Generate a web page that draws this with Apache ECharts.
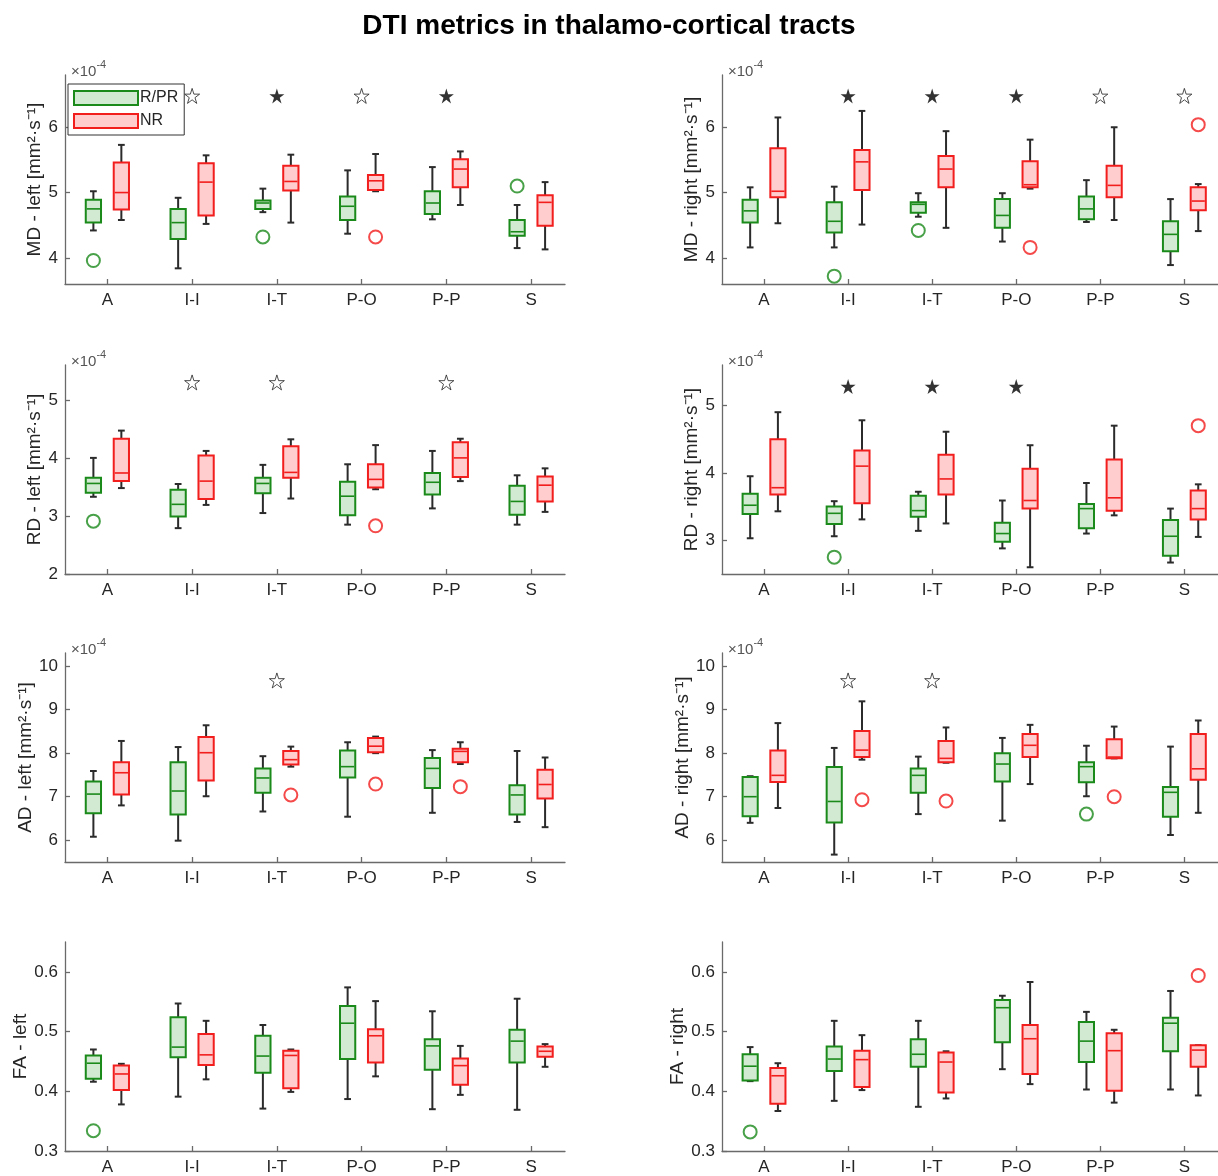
<!DOCTYPE html>
<html><head><meta charset="utf-8">
<script src="https://cdn.jsdelivr.net/npm/echarts@6/dist/echarts.min.js"></script>
<style>html,body{margin:0;padding:0;background:#fff}#c{width:1218px;height:1176px}</style>
</head><body><div id="c"></div>
<script>
const categories = ['A', 'I-I', 'I-T', 'P-O', 'P-P', 'S'];

// each box: [lowerWhisker, q1, median, q3, upperWhisker] (axis units)
const mdLeftRPR = [[4.42,4.54,4.75,4.89,5.02],[3.84,4.29,4.54,4.75,4.92],[4.70,4.75,4.84,4.88,5.06],[4.37,4.58,4.79,4.94,5.34],[4.59,4.67,4.84,5.02,5.39],[4.15,4.34,4.40,4.58,4.81]];
const mdLeftNR  = [[4.58,4.74,5.00,5.46,5.73],[4.52,4.65,5.16,5.45,5.57],[4.54,5.03,5.17,5.41,5.58],[5.02,5.04,5.18,5.27,5.59],[4.81,5.08,5.36,5.51,5.63],[4.13,4.49,4.85,4.96,5.16]];
const mdLeftOutRPR = [['A',3.96],['I-T',4.32],['S',5.10]];
const mdLeftOutNR  = [['P-O',4.32]];
const mdLeftStarsOpen = ['I-I','P-O'];
const mdLeftStarsFilled = ['I-T','P-P'];

const mdRightRPR = [[4.16,4.54,4.72,4.89,5.08],[4.16,4.39,4.56,4.85,5.09],[4.63,4.69,4.82,4.85,4.99],[4.25,4.46,4.65,4.90,4.99],[4.55,4.59,4.75,4.94,5.19],[3.89,4.10,4.36,4.56,4.90]];
const mdRightNR  = [[4.53,4.93,5.02,5.68,6.15],[4.51,5.04,5.47,5.65,6.25],[4.46,5.08,5.36,5.56,5.94],[5.06,5.08,5.12,5.48,5.81],[4.58,4.93,5.11,5.41,6.00],[4.41,4.73,4.87,5.08,5.13]];
const mdRightOutRPR = [['I-I',3.72],['I-T',4.42]];
const mdRightOutNR  = [['P-O',4.16],['S',6.04]];
const mdRightStarsOpen = ['P-P','S'];
const mdRightStarsFilled = ['I-I','I-T','P-O'];

const rdLeftRPR = [[3.33,3.40,3.56,3.66,4.00],[2.79,2.99,3.20,3.45,3.55],[3.05,3.39,3.56,3.66,3.88],[2.85,3.01,3.34,3.59,3.89],[3.13,3.37,3.58,3.74,4.12],[2.85,3.02,3.25,3.52,3.70]];
const rdLeftNR  = [[3.48,3.60,3.74,4.33,4.47],[3.19,3.29,3.60,4.04,4.12],[3.30,3.66,3.75,4.20,4.32],[3.46,3.49,3.63,3.89,4.22],[3.60,3.67,4.00,4.27,4.33],[3.07,3.25,3.53,3.68,3.82]];
const rdLeftOutRPR = [['A',2.91]];
const rdLeftOutNR  = [['P-O',2.83]];
const rdLeftStarsOpen = ['I-I','I-T','P-P'];
const rdLeftStarsFilled = [];

const rdRightRPR = [[3.03,3.39,3.52,3.69,3.95],[3.06,3.24,3.40,3.50,3.58],[3.14,3.35,3.44,3.66,3.72],[2.88,2.98,3.10,3.26,3.59],[3.10,3.18,3.47,3.54,3.85],[2.67,2.77,3.06,3.30,3.47]];
const rdRightNR  = [[3.43,3.68,3.78,4.50,4.90],[3.31,3.55,4.10,4.33,4.78],[3.25,3.68,3.91,4.27,4.61],[2.60,3.47,3.59,4.06,4.41],[3.37,3.44,3.63,4.20,4.70],[3.05,3.31,3.47,3.74,3.83]];
const rdRightOutRPR = [['I-I',2.75]];
const rdRightOutNR  = [['S',4.70]];
const rdRightStarsOpen = [];
const rdRightStarsFilled = ['I-I','I-T','P-O'];

const adLeftRPR = [[6.08,6.62,7.06,7.35,7.59],[5.99,6.59,7.13,7.79,8.14],[6.66,7.09,7.43,7.65,7.93],[6.54,7.44,7.69,8.06,8.25],[6.63,7.20,7.65,7.89,8.07],[6.42,6.59,7.04,7.26,8.05]];
const adLeftNR  = [[6.80,7.05,7.55,7.79,8.28],[7.01,7.37,8.01,8.37,8.64],[7.69,7.74,7.85,8.05,8.15],[8.00,8.02,8.16,8.35,8.38],[7.75,7.79,8.04,8.10,8.25],[6.30,6.96,7.28,7.62,7.90]];
const adLeftOutRPR = [];
const adLeftOutNR  = [['I-T',7.04],['P-O',7.29],['P-P',7.23]];
const adLeftStarsOpen = ['I-T'];
const adLeftStarsFilled = [];

const adRightRPR = [[6.40,6.55,7.00,7.45,7.47],[5.67,6.41,6.89,7.68,8.12],[6.60,7.09,7.49,7.65,7.92],[6.45,7.35,7.75,8.00,8.35],[7.01,7.33,7.69,7.79,8.17],[6.12,6.54,7.10,7.22,8.15]];
const adRightNR  = [[6.74,7.34,7.49,8.06,8.69],[7.85,7.91,8.07,8.51,9.19],[7.78,7.79,7.88,8.28,8.59],[7.29,7.91,8.18,8.44,8.65],[7.88,7.88,7.91,8.32,8.61],[6.63,7.39,7.64,8.44,8.75]];
const adRightOutRPR = [['P-P',6.60]];
const adRightOutNR  = [['I-I',6.93],['I-T',6.90],['P-P',7.00]];
const adRightStarsOpen = ['I-I','I-T'];
const adRightStarsFilled = [];

const faLeftRPR = [[0.416,0.421,0.447,0.460,0.470],[0.391,0.457,0.474,0.524,0.547],[0.371,0.431,0.459,0.493,0.511],[0.387,0.454,0.514,0.543,0.574],[0.370,0.436,0.476,0.487,0.534],[0.369,0.448,0.484,0.503,0.555]];
const faLeftNR  = [[0.378,0.402,0.429,0.443,0.446],[0.420,0.444,0.461,0.496,0.518],[0.399,0.405,0.460,0.468,0.470],[0.425,0.448,0.493,0.504,0.551],[0.394,0.411,0.443,0.455,0.476],[0.441,0.458,0.467,0.475,0.479]];
const faLeftOutRPR = [['A',0.334]];
const faLeftOutNR  = [];

const faRightRPR = [[0.417,0.418,0.442,0.462,0.474],[0.384,0.434,0.454,0.475,0.518],[0.374,0.441,0.462,0.487,0.518],[0.437,0.482,0.540,0.553,0.560],[0.403,0.449,0.484,0.516,0.533],[0.403,0.467,0.514,0.523,0.568]];
const faRightNR  = [[0.367,0.379,0.426,0.439,0.447],[0.402,0.407,0.453,0.468,0.494],[0.388,0.398,0.449,0.465,0.467],[0.412,0.429,0.488,0.511,0.583],[0.381,0.401,0.468,0.497,0.503],[0.393,0.441,0.469,0.477,0.477]];
const faRightOutRPR = [['A',0.332]];
const faRightOutNR  = [['S',0.594]];

// y tick labels per metric
const mdTicks = [4, 5, 6];
const rdLeftTicks = [2, 3, 4, 5];
const rdRightTicks = [3, 4, 5];
const adTicks = [6, 7, 8, 9, 10];
const faTicks = [0.3, 0.4, 0.5, 0.6];

// ---------- styling / layout ----------
const FONT = 'Liberation Sans, Arial, Helvetica, sans-serif';
const TXT = '#262626';
const AXIS = '#6a6a6a';
const G_EDGE = '#1a8a1a', G_FILL = '#d2ead2';
const R_EDGE = '#f21d1d', R_FILL = '#ffcdcd';
const WHISK = '#2b2b2b';
const BOX_W = 0.18, CAP_W = 0.08, OFF = 0.165;
const STAR = 'path://M50,2 L61.2,36.6 L97.6,36.6 L68.2,58 L79.4,92.6 L50,71.2 L20.6,92.6 L31.8,58 L2.4,36.6 L38.8,36.6 Z';

const panels = [
  {metric:'MD', side:'left',  rpr:mdLeftRPR,  nr:mdLeftNR,  oR:mdLeftOutRPR,  oN:mdLeftOutNR,  so:mdLeftStarsOpen,  sf:mdLeftStarsFilled,  star:6.48, min:3.6, max:6.8, ticks:mdTicks, exp:true, gap:19},
  {metric:'MD', side:'right', rpr:mdRightRPR, nr:mdRightNR, oR:mdRightOutRPR, oN:mdRightOutNR, so:mdRightStarsOpen, sf:mdRightStarsFilled, star:6.48, min:3.6, max:6.8, ticks:mdTicks, exp:true, gap:19},
  {metric:'RD', side:'left',  rpr:rdLeftRPR,  nr:rdLeftNR,  oR:rdLeftOutRPR,  oN:rdLeftOutNR,  so:rdLeftStarsOpen,  sf:rdLeftStarsFilled,  star:5.30, min:2, max:5.6, ticks:rdLeftTicks, exp:true, gap:19},
  {metric:'RD', side:'right', rpr:rdRightRPR, nr:rdRightNR, oR:rdRightOutRPR, oN:rdRightOutNR, so:rdRightStarsOpen, sf:rdRightStarsFilled, star:5.28, min:2.5, max:5.6, ticks:rdRightTicks, exp:true, gap:19},
  {metric:'AD', side:'left',  rpr:adLeftRPR,  nr:adLeftNR,  oR:adLeftOutRPR,  oN:adLeftOutNR,  so:adLeftStarsOpen,  sf:adLeftStarsFilled,  star:9.67, min:5.5, max:10.3, ticks:adTicks, exp:true, gap:23},
  {metric:'AD', side:'right', rpr:adRightRPR, nr:adRightNR, oR:adRightOutRPR, oN:adRightOutNR, so:adRightStarsOpen, sf:adRightStarsFilled, star:9.67, min:5.5, max:10.3, ticks:adTicks, exp:true, gap:23},
  {metric:'FA', side:'left',  rpr:faLeftRPR,  nr:faLeftNR,  oR:faLeftOutRPR,  oN:faLeftOutNR,  so:[], sf:[], star:0, min:0.3, max:0.65, ticks:faTicks, exp:false, gap:35},
  {metric:'FA', side:'right', rpr:faRightRPR, nr:faRightNR, oR:faRightOutRPR, oN:faRightOutNR, so:[], sf:[], star:0, min:0.3, max:0.65, ticks:faTicks, exp:false, gap:35}
];

const rowTops = [75, 365, 653, 942];
const GRID_H = 209, GRID_W = 500;
const colLeft = {left: 65, right: 722};

function boxRender(edge, fill) {
  return function (params, api) {
    const x = api.value(0);
    const lo = api.coord([x, api.value(1)]);
    const q1 = api.coord([x, api.value(2)]);
    const md = api.coord([x, api.value(3)]);
    const q3 = api.coord([x, api.value(4)]);
    const hi = api.coord([x, api.value(5)]);
    const hw = api.size([BOX_W, 0])[0] / 2;
    const cw = api.size([CAP_W, 0])[0] / 2;
    const cx = lo[0];
    const ws = {stroke: WHISK, lineWidth: 2};
    return {type: 'group', children: [
      {type: 'line', shape: {x1: cx, y1: hi[1], x2: cx, y2: q3[1]}, style: ws},
      {type: 'line', shape: {x1: cx, y1: q1[1], x2: cx, y2: lo[1]}, style: ws},
      {type: 'line', shape: {x1: cx - cw, y1: hi[1], x2: cx + cw, y2: hi[1]}, style: ws},
      {type: 'line', shape: {x1: cx - cw, y1: lo[1], x2: cx + cw, y2: lo[1]}, style: ws},
      {type: 'rect', shape: {x: cx - hw, y: q3[1], width: 2 * hw, height: q1[1] - q3[1]}, style: {fill: fill, stroke: edge, lineWidth: 2}},
      {type: 'line', shape: {x1: cx - hw + 1, y1: md[1], x2: cx + hw - 1, y2: md[1]}, style: {stroke: edge, lineWidth: 1.6}}
    ]};
  };
}

const grid = [], xAxis = [], yAxis = [], series = [], title = [];
title.push({text: 'DTI metrics in thalamo-cortical tracts', left: 'center', top: 7,
  textStyle: {fontFamily: FONT, fontSize: 28, fontWeight: 'bold', color: '#000'}});

const catPos = c => categories.indexOf(c) + 1;

panels.forEach((p, i) => {
  const row = Math.floor(i / 2);
  const left = colLeft[p.side];
  const top = rowTops[row];
  grid.push({left: left, top: top, width: GRID_W, height: GRID_H, containLabel: false});
  xAxis.push({
    type: 'value', gridIndex: i, min: 0.5, max: 6.4,
    axisLine: {show: true, onZero: false, lineStyle: {color: AXIS, width: 1.3}},
    axisTick: {show: true, inside: true, length: 5, customValues: [1,2,3,4,5,6], lineStyle: {color: AXIS, width: 1.3}},
    axisLabel: {customValues: [1,2,3,4,5,6], formatter: v => categories[Math.round(v) - 1] || '',
      fontFamily: FONT, fontSize: 17, color: TXT, margin: 8},
    splitLine: {show: false}
  });
  const nm = p.metric + ' - ' + p.side;
  const yname = p.exp ? nm + ' [mm\u00B2\u00B7s\u207B\u00B9]' : nm;
  yAxis.push({
    type: 'value', gridIndex: i, min: p.min, max: p.max,
    axisLine: {show: true, onZero: false, lineStyle: {color: AXIS, width: 1.3}},
    axisTick: {show: true, inside: true, length: 5, customValues: p.ticks, lineStyle: {color: AXIS, width: 1.3}},
    axisLabel: {customValues: p.ticks, formatter: v => String(Math.round(v * 10) / 10),
      fontFamily: FONT, fontSize: 17, color: TXT, margin: 7},
    splitLine: {show: false},
    name: yname, nameLocation: 'middle', nameGap: p.gap,
    nameTextStyle: {fontFamily: FONT, fontSize: 19, color: TXT}
  });
  if (p.exp) {
    title.push({text: '{a|\u00D710}{b|-4}', left: left + 1, top: top - 21,
      textStyle: {fontWeight: 'normal', rich: {
        a: {fontFamily: FONT, fontSize: 15, fontWeight: 'normal', color: '#555', lineHeight: 20, verticalAlign: 'bottom'},
        b: {fontFamily: FONT, fontSize: 11, fontWeight: 'normal', color: '#555', lineHeight: 13, verticalAlign: 'top'}
      }}});
  }
  const gData = p.rpr.map((b, k) => [k + 1 - OFF].concat(b));
  const rData = p.nr.map((b, k) => [k + 1 + OFF].concat(b));
  series.push({type: 'custom', name: 'R/PR', xAxisIndex: i, yAxisIndex: i, data: gData,
    encode: {x: 0, y: [1,2,3,4,5]}, renderItem: boxRender(G_EDGE, G_FILL),
    itemStyle: {color: G_FILL, borderColor: G_EDGE, borderWidth: 2}, silent: true, z: 2});
  series.push({type: 'custom', name: 'NR', xAxisIndex: i, yAxisIndex: i, data: rData,
    encode: {x: 0, y: [1,2,3,4,5]}, renderItem: boxRender(R_EDGE, R_FILL),
    itemStyle: {color: R_FILL, borderColor: R_EDGE, borderWidth: 2}, silent: true, z: 2});
  series.push({type: 'scatter', xAxisIndex: i, yAxisIndex: i, symbol: 'circle', symbolSize: 13,
    data: p.oR.map(o => [catPos(o[0]) - OFF, o[1]]),
    itemStyle: {color: 'rgba(0,0,0,0)', borderColor: G_EDGE, borderWidth: 2}, silent: true, z: 3});
  series.push({type: 'scatter', xAxisIndex: i, yAxisIndex: i, symbol: 'circle', symbolSize: 13,
    data: p.oN.map(o => [catPos(o[0]) + OFF, o[1]]),
    itemStyle: {color: 'rgba(0,0,0,0)', borderColor: R_EDGE, borderWidth: 2}, silent: true, z: 3});
  if (p.so.length) series.push({type: 'scatter', xAxisIndex: i, yAxisIndex: i, symbol: STAR, symbolSize: 15,
    data: p.so.map(c => [catPos(c), p.star]),
    itemStyle: {color: '#fff', borderColor: '#222', borderWidth: 1}, silent: true, z: 3});
  if (p.sf.length) series.push({type: 'scatter', xAxisIndex: i, yAxisIndex: i, symbol: STAR, symbolSize: 15,
    data: p.sf.map(c => [catPos(c), p.star]),
    itemStyle: {color: '#000'}, silent: true, z: 3});
});

const chart = echarts.init(document.getElementById('c'), null, {renderer: 'canvas'});
chart.setOption({
  animation: false,
  backgroundColor: '#fff',
  title: title,
  grid: grid, xAxis: xAxis, yAxis: yAxis, series: series,
  legend: {
    left: 68, top: 84, orient: 'vertical', selectedMode: false,
    itemWidth: 64, itemHeight: 14, itemGap: 7, padding: [6, 6, 6, 5],
    borderColor: '#333', borderWidth: 1, backgroundColor: '#fff', z: 10,
    textStyle: {fontFamily: FONT, fontSize: 16, color: TXT, padding: [0, 0, 0, -3]},
    data: [
      {name: 'R/PR', icon: 'rect', itemStyle: {color: G_FILL, borderColor: G_EDGE, borderWidth: 2}},
      {name: 'NR', icon: 'rect', itemStyle: {color: R_FILL, borderColor: R_EDGE, borderWidth: 2}}
    ]
  }
});
</script></body></html>
